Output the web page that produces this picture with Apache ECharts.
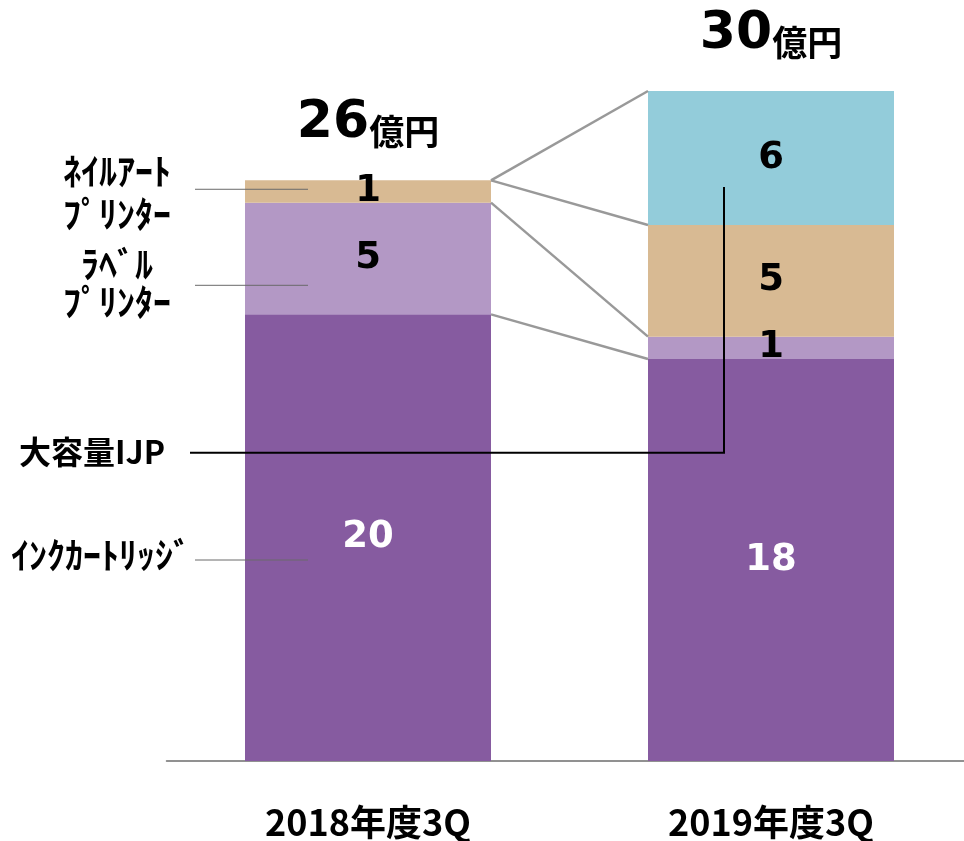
<!DOCTYPE html>
<html>
<head>
<meta charset="utf-8">
<script src="https://cdn.jsdelivr.net/npm/echarts@6/dist/echarts.min.js"></script>
<style>
  html, body { margin: 0; padding: 0; background: #fff; }
  #chart { width: 964px; height: 841px; }
</style>
</head>
<body>
<div id="chart"></div>
<script>
const categories = ['2018年度3Q', '2019年度3Q'];
const seriesNames = ['ｲﾝｸｶｰﾄﾘｯｼﾞ', 'ﾗﾍﾞﾙﾌﾟﾘﾝﾀｰ', 'ﾈｲﾙｱｰﾄﾌﾟﾘﾝﾀｰ', '大容量IJP'];
const inkCartridge = [20, 18];
const labelPrinter = [5, 1];
const nailArtPrinter = [1, 5];
const largeIJP = [0, 6];
const unit = '億円';

const colors = ['#865ba0', '#b398c5', '#d8ba93', '#93ccda'];
const labelColors = ['#fff', '#000', '#000', '#000'];
const allSeries = [inkCartridge, labelPrinter, nailArtPrinter, largeIJP];
const totals = categories.map((c, i) => allSeries.reduce((s, arr) => s + arr[i], 0));

const chart = echarts.init(document.getElementById('chart'));
const numFont = 'DejaVu Sans';
const jpFont = '"Noto Sans CJK JP", sans-serif';

let series = allSeries.map((data, k) => ({
    name: seriesNames[k],
    type: 'bar',
    stack: 'total',
    barWidth: 246,
    data: data,
    itemStyle: {color: colors[k]},
    label: {
        show: true,
        position: 'inside',
        color: labelColors[k],
        fontFamily: numFont,
        fontWeight: 'bold',
        fontSize: 37,
        formatter: p => p.value === 0 ? '' : String(p.value)
    }
}));

series.push({
    type: 'scatter',
    data: totals,
    symbolSize: 0,
    silent: true,
    itemStyle: {opacity: 1, color: '#000'},
    label: {
        show: true,
        position: 'top',
        distance: 31,
        color: '#000',
        opacity: 1,
        formatter: p => '{n|' + p.value + '}{u|' + unit + '}',
        rich: {
            n: {fontFamily: numFont, fontWeight: 'bold', fontSize: 52, color: '#000', verticalAlign: 'bottom', lineHeight: 50},
            u: {fontFamily: jpFont, fontWeight: 'bold', fontSize: 35, color: '#000', verticalAlign: 'bottom', lineHeight: 44}
        }
    }
});

chart.setOption({
    animation: false,
    grid: {left: 166.5, width: 806, top: 91, bottom: 80, outerBoundsMode: 'none'},
    xAxis: {
        type: 'category',
        data: categories,
        axisLine: {lineStyle: {color: '#6e6e6e', width: 1.5}},
        axisTick: {show: false},
        axisLabel: {
            margin: 43,
            color: '#000',
            fontFamily: jpFont,
            fontWeight: 'bold',
            fontSize: 36
        }
    },
    yAxis: {type: 'value', min: 0, max: 30, show: false, splitLine: {show: false}},
    series: series
});

// connector lines between the bars, and left-side leader lines
const half = 123;
const px = (i, v) => chart.convertToPixel({gridIndex: 0}, [i, v]);
let graphics = [];
let cum = [0, 0];
allSeries.forEach((data) => {
    cum = cum.map((c, i) => c + data[i]);
    const a = px(0, cum[0]);
    const b = px(1, cum[1]);
    graphics.push({
        type: 'line',
        z: 100,
        shape: {x1: a[0] + half, y1: a[1], x2: b[0] - half, y2: b[1]},
        style: {stroke: '#999', lineWidth: 2.5}
    });
});

const leaderVals = [9.0, 21.3, 25.6];
leaderVals.forEach(v => {
    const p = px(0, v);
    graphics.push({
        type: 'line',
        z: 100,
        shape: {x1: 195, y1: p[1], x2: p[0] - 60, y2: p[1]},
        style: {stroke: '#6a6a6a', lineWidth: 1}
    });
});

const ijpH = px(1, 13.8);
const ijpTop = px(1, 25.7);
graphics.push({
    type: 'polyline',
    z: 100,
    shape: {points: [[190, ijpH[1]], [ijpH[0] - 47, ijpH[1]], [ijpH[0] - 47, ijpTop[1]]]},
    style: {stroke: '#000', lineWidth: 2, fill: null}
});

const leftText = (text, x, y, size) => ({
    type: 'text',
    z: 100,
    x: x, y: y,
    style: {
        text: text,
        fill: '#000',
        font: 'bold ' + size + 'px ' + jpFont,
        align: 'center',
        verticalAlign: 'middle'
    }
});
graphics.push(leftText('ﾈｲﾙｱｰﾄ', 117, 171, 36));
graphics.push(leftText('ﾌﾟﾘﾝﾀｰ', 117, 214, 36));
graphics.push(leftText('ﾗﾍﾞﾙ', 117, 264, 36));
graphics.push(leftText('ﾌﾟﾘﾝﾀｰ', 117, 302, 36));
graphics.push(leftText('大容量IJP', 92, 452, 32));
graphics.push(leftText('ｲﾝｸｶｰﾄﾘｯｼﾞ', 101, 555, 36));

chart.setOption({graphic: graphics});
</script>
</body>
</html>
